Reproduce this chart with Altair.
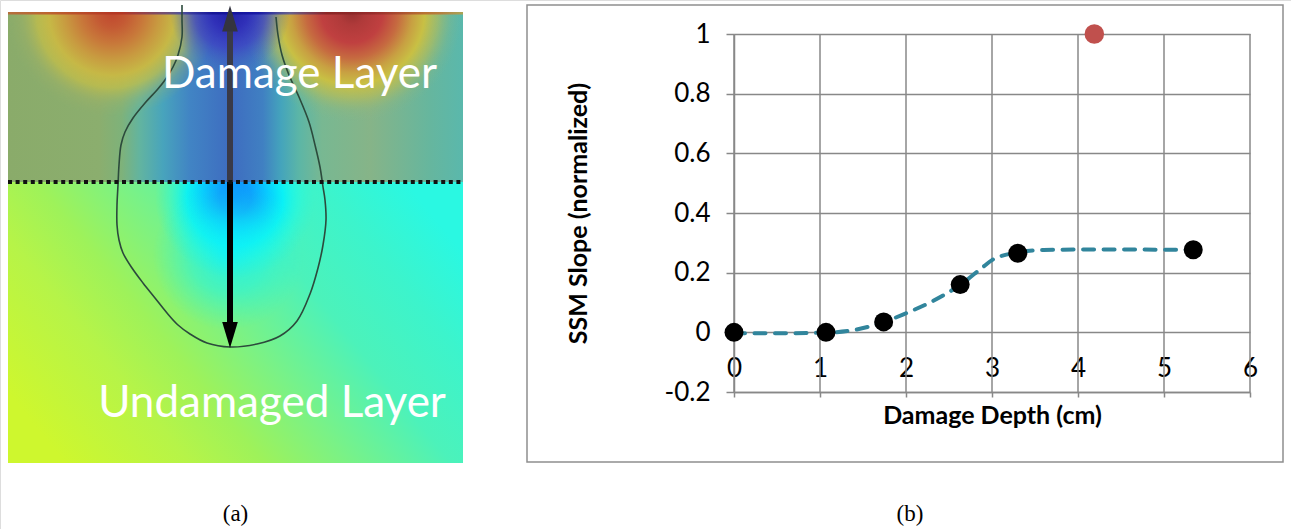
import altair as alt
import pandas as pd

# ---------------- Panel (b): SSM slope vs damage depth ----------------
depth_cm = [0.0, 1.07, 1.74, 2.63, 3.30, 5.34]
ssm_slope = [0.0, 0.0, 0.035, 0.160, 0.265, 0.277]
outlier_depth = [4.19]
outlier_slope = [1.0]
fit_depth = [0.0, 0.5, 1.07, 1.4, 1.74, 2.0, 2.3, 2.63, 2.9, 3.0, 3.3, 3.6, 4.2, 5.34]
fit_slope = [-0.003, -0.003, -0.001, 0.008, 0.034, 0.064, 0.103, 0.159, 0.220, 0.242,
             0.268, 0.276, 0.278, 0.276]
x_ticks = [0, 1, 2, 3, 4, 5, 6]
y_ticks = [-0.2, 0.0, 0.2, 0.4, 0.6, 0.8, 1.0]
x_title = "Damage Depth (cm)"
y_title = "SSM Slope (normalized)"

# ---------------- Panel (a): simulated field image (image pixel units) ----------------
img_w, img_h = 455, 451
interface_y = 170
contour_x = [174, 174, 174, 170, 165, 157, 149, 137, 125, 117, 113, 111, 110, 109, 109, 111,
             115, 124, 135, 147, 159, 170, 182, 199, 222, 249, 272, 289, 302, 310, 315, 318,
             317, 315, 312, 307, 301, 291, 281, 274, 270, 268]
contour_y = [-7, 8, 25, 43, 55, 68, 78, 91, 106, 120, 133, 153, 173, 193, 213, 228, 241, 256,
             271, 286, 301, 313, 322, 331, 335, 332, 324, 309, 282, 256, 233, 208, 188, 175,
             155, 133, 110, 85, 63, 43, 23, 5]
arrow_x = 222
arrow_top, arrow_bottom = 6.5, 323
labels_a = ["Damage Layer", "Undamaged Layer"]
label_x = [291.5, 264]
label_y = [76, 405]
captions = ["(a)", "(b)"]

# ---------------- styles ----------------
FONT = "Lato"
GRID = "#888888"
LINE = "#31859c"
TICK_FS = 26
TITLE_FS = 25

XB = alt.Scale(domain=[0, 6], range=[734, 1250], nice=False, zero=False)
YB = alt.Scale(domain=[-0.2, 1], range=[392, 34], nice=False, zero=False)
XA = alt.Scale(domain=[0, img_w], range=[8, 8 + img_w], nice=False, zero=False)
YA = alt.Scale(domain=[0, img_h], range=[12, 12 + img_h], nice=False, zero=False)

AXB = alt.Axis(orient="bottom", offset=-137, values=x_ticks, grid=False,
               domain=True, domainColor=GRID, domainWidth=1.5,
               ticks=True, tickSize=5, tickColor=GRID, tickWidth=1.5,
               labelFont=FONT, labelFontSize=TICK_FS, labelColor="black",
               labelPadding=-29, labelBaseline="middle", labelFlush=False,
               labelOverlap=False, labelExpr="'' + datum.value",
               title=x_title, titleFont=FONT, titleFontSize=TITLE_FS, titleFontWeight="bold",
               titleColor="black", titleBaseline="middle", titleY=23)
AYB = alt.Axis(orient="left", offset=-734, values=y_ticks, grid=True,
               gridColor=GRID, gridWidth=1.5,
               domain=True, domainColor=GRID, domainWidth=1.5,
               ticks=True, tickSize=8, tickColor=GRID, tickWidth=1.5,
               labelFont=FONT, labelFontSize=TICK_FS, labelColor="black",
               labelPadding=16, labelFlush=False, labelOverlap=False,
               labelExpr="'' + datum.value",
               title=y_title, titleFont=FONT, titleFontSize=TITLE_FS, titleFontWeight="bold",
               titleColor="black", titleBaseline="middle", titleX=-156)


def bx():
    return alt.X("x:Q", scale=XB, axis=AXB)


def by():
    return alt.Y("y:Q", scale=YB, axis=AYB)


def ax():
    return alt.X("x:Q", scale=XA, axis=None)


def ay():
    return alt.Y("y:Q", scale=YA, axis=None)


def stops(lst):
    return [alt.GradientStop(offset=o, color=c) for o, c in lst]


def lin(lst, x1, y1, x2, y2):
    return alt.LinearGradient(gradient="linear", stops=stops(lst), x1=x1, y1=y1, x2=x2, y2=y2)


def rad(lst, cx, cy, r):
    return alt.RadialGradient(gradient="radial", stops=stops(lst), x1=cx, y1=cy, r1=0,
                              x2=cx, y2=cy, r2=r)


def rect(x0, x1, y0, y1, fill, opacity=1.0):
    df = pd.DataFrame({"x": [x0], "x2": [x1], "y": [y0], "y2": [y1]})
    return alt.Chart(df).mark_rect(fill=fill, opacity=opacity, strokeWidth=0).encode(
        x=ax(), x2="x2:Q", y=ay(), y2="y2:Q")


def blob(cx, cy, r, lst):
    # square box whose top is at the image top, circular radial gradient inside
    top = max(0, cy - r)
    side = 2 * r
    return rect(cx - r, cx + r, top, top + side, rad(lst, 0.5, (cy - top) / side, 0.5))


# ---- panel (a) layers ----
bottom_base = rect(0, img_w, interface_y, img_h, lin([
    (0.0, "#cef72e"), (0.22, "#b6f448"), (0.35, "#9ef25a"), (0.5, "#7af286"),
    (0.68, "#4cf2ba"), (0.85, "#3cf4cc"), (1.0, "#2af8e2")], 0, 0.75, 1, 0.25))
blue_spot = blob(227, 186, 80, [
    (0.0, "#0a8cff"), (0.2, "#0c98ff"), (0.4, "#08c8ff"), (0.6, "rgba(0,240,255,0.85)"),
    (0.8, "rgba(20,250,240,0.4)"), (1.0, "rgba(40,245,220,0)")])
cyan_tail = blob(220, 243, 75, [
    (0.0, "rgba(10,240,255,0.7)"), (0.5, "rgba(20,245,240,0.45)"), (1.0, "rgba(40,245,220,0)")])
top_base = rect(0, img_w, 0, interface_y, lin([
    (0.0, "#8aab6a"), (0.2, "#8bae6e"), (0.25, "#7eb27a"), (0.29, "#62b4a0"),
    (0.34, "#48a4bc"), (0.40, "#4184c4"), (0.49, "#3e6cc0"), (0.56, "#4080c2"),
    (0.60, "#44a4bc"), (0.64, "#5cb6a6"), (0.69, "#78b892"), (0.796, "#86b488"),
    (0.927, "#66b69e"), (1.0, "#5ab8ac")], 0, 0, 1, 0))
left_blob = blob(104, 0, 105, [
    (0.0, "#c0462e"), (0.15, "#c45a34"), (0.3, "#c8783a"), (0.45, "#c89a40"),
    (0.6, "#c6b846"), (0.72, "rgba(196,190,72,0.75)"), (0.86, "rgba(170,180,95,0.3)"),
    (1.0, "rgba(150,175,105,0)")])
right_blob = blob(344, 0, 110, [
    (0.0, "#963030"), (0.12, "#b03a3a"), (0.28, "#c04040"), (0.42, "#c66a40"),
    (0.55, "#c8a042"), (0.66, "#c8c044"), (0.78, "rgba(190,190,80,0.6)"),
    (0.9, "rgba(160,185,110,0.2)"), (1.0, "rgba(140,180,130,0)")])
center_blob = blob(222, 0, 60, [
    (0.0, "#2020a8"), (0.3, "#3030b8"), (0.6, "rgba(60,60,195,0.7)"), (1.0, "rgba(64,96,192,0)")])
top_strip = rect(0, img_w, 0, 2.5, lin([
    (0.0, "#c06030"), (0.25, "#b03020"), (0.38, "#4040a0"), (0.45, "#101090"),
    (0.55, "#1010a0"), (0.62, "#5050a0"), (0.7, "#802020"), (0.8, "#902828"),
    (0.95, "#c07030"), (1.0, "#c0a040")], 0, 0, 1, 0), opacity=0.8)

contour = alt.Chart(pd.DataFrame({"x": contour_x, "y": contour_y,
                                  "i": list(range(len(contour_x)))})).mark_line(
    color="#2c4a3c", strokeWidth=1.6, interpolate="catmull-rom").encode(
    x=ax(), y=ay(), order="i:Q")

shaft_df = pd.DataFrame({"x": [arrow_x, arrow_x], "y": [arrow_top + 12, interface_y],
                         "y2": [interface_y, arrow_bottom - 10], "c": ["#3a3a48", "#000000"]})
shaft = alt.Chart(shaft_df).mark_rule(strokeWidth=6).encode(
    x=ax(), y=ay(), y2="y2:Q", color=alt.Color("c:N", scale=None))
head_up = alt.Chart(pd.DataFrame({"x": [arrow_x], "y": [arrow_top]})).mark_point(
    shape="M-0.6,1L0.6,1L0,-1Z", size=676, filled=True, fill="#34343f", opacity=1,
    strokeWidth=0).encode(x=ax(), y=ay())
head_down = alt.Chart(pd.DataFrame({"x": [arrow_x], "y": [arrow_bottom]})).mark_point(
    shape="M-0.6,-1L0.6,-1L0,1Z", size=676, filled=True, fill="#000000", opacity=1,
    strokeWidth=0).encode(x=ax(), y=ay())

dotted = alt.Chart(pd.DataFrame({"x": [0], "x2": [img_w], "y": [interface_y]})).mark_rule(
    color="#111111", strokeWidth=4, strokeDash=[4, 3.6]).encode(x=ax(), x2="x2:Q", y=ay())

layer_text = alt.Chart(pd.DataFrame({"x": label_x, "y": label_y, "t": labels_a})).mark_text(
    font=FONT, fontSize=44, color="white", align="center", baseline="alphabetic").encode(
    x=ax(), y=ay(), text="t:N")

panel_a = alt.layer(bottom_base, blue_spot, cyan_tail, top_base, left_blob, right_blob,
                    center_blob, top_strip, contour, shaft, head_up, head_down, dotted,
                    layer_text)

# ---- panel (b) layers ----
vgrid = alt.Chart(pd.DataFrame({"x": x_ticks, "y": [y_ticks[0]] * len(x_ticks),
                                "y2": [y_ticks[-1]] * len(x_ticks)})).mark_rule(
    color=GRID, strokeWidth=1.5).encode(x=bx(), y=by(), y2="y2:Q")
fit = alt.Chart(pd.DataFrame({"x": fit_depth, "y": fit_slope})).mark_line(
    color=LINE, strokeWidth=4, strokeDash=[11, 9.5], strokeCap="round",
    interpolate="monotone").encode(x=bx(), y=by())
pts = alt.Chart(pd.DataFrame({"x": depth_cm, "y": ssm_slope})).mark_circle(
    size=360, color="black", opacity=1).encode(x=bx(), y=by())
outlier = alt.Chart(pd.DataFrame({"x": outlier_depth, "y": outlier_slope})).mark_circle(
    size=380, color="#c0504d", opacity=1).encode(x=bx(), y=by())

panel_b = alt.layer(vgrid, fit, pts, outlier)

frame = alt.Chart(pd.DataFrame({"k": [0]})).mark_rect(
    filled=False, stroke="#8f8f8f", strokeWidth=1.5).encode(
    x=alt.value(527), x2=alt.value(1283), y=alt.value(5), y2=alt.value(462))
cap_a = alt.Chart(pd.DataFrame({"t": [captions[0]]})).mark_text(
    font="Liberation Serif", fontSize=23, color="black", align="center",
    baseline="alphabetic").encode(x=alt.value(235.5), y=alt.value(521), text="t:N")
cap_b = alt.Chart(pd.DataFrame({"t": [captions[1]]})).mark_text(
    font="Liberation Serif", fontSize=23, color="black", align="center",
    baseline="alphabetic").encode(x=alt.value(910), y=alt.value(521), text="t:N")

chart = alt.layer(panel_a, panel_b, frame, cap_a, cap_b).resolve_scale(
    x="independent", y="independent").properties(
    width=1291, height=529, padding=0,
    autosize=alt.AutoSizeParams(type="none")).configure_view(stroke=None).configure(
    background="white")

chart.save("out.html", embed_options={"renderer": "svg", "actions": False})
